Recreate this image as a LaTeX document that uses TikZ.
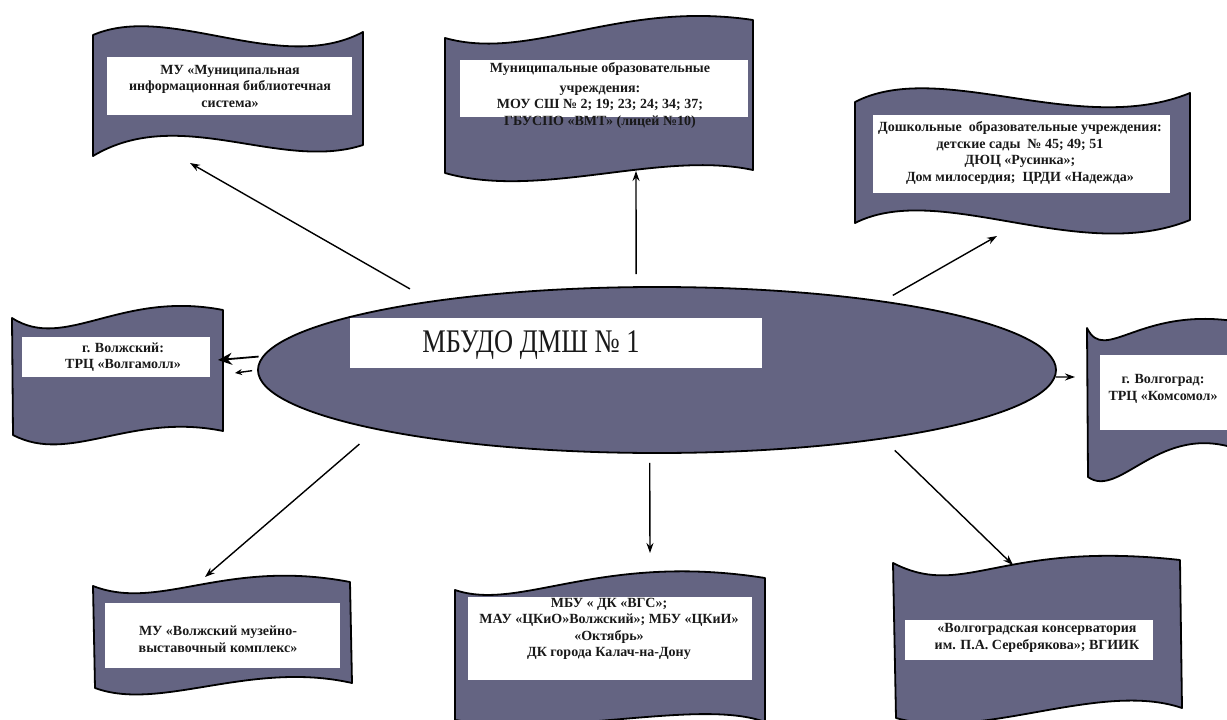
\documentclass[tikz,border=0pt]{standalone}
\usepackage{fontspec}
\usepackage{graphicx}
\setmainfont{Liberation Serif}
\usetikzlibrary{arrows.meta,shapes.geometric}
\definecolor{wavefill}{RGB}{100,100,130}
\definecolor{txt}{RGB}{25,25,25}
\tikzset{
  wave/.style={draw=black, line width=1.8pt, fill=wavefill, line join=round},
  box/.style={fill=white, inner sep=0pt, rectangle},
  lbl/.style={inner sep=0pt, align=center, text=txt, font=\fontsize{14}{16.5}\selectfont\bfseries},
  arr/.style={-{Stealth[length=10pt,width=7pt]}, line width=1.4pt},
  bigarr/.style={-{Stealth[length=14pt,width=12pt]}, line width=1.8pt},
}
\begin{document}
\begin{tikzpicture}[x=1pt,y=-1pt]
\fill[white] (0,0) rectangle (1227,720);
\clip (0,0) rectangle (1227,720);

% wave banners
\draw[wave] (93,35) .. controls (170,2) and (280,76) .. (363,32) -- (363,145)
  .. controls (280,172) and (180,104) .. (93,156) -- cycle;
\draw[wave] (445,38) .. controls (530,62) and (620,0) .. (753,20) -- (753,170)
  .. controls (660,150) and (540,200) .. (445,173) -- cycle;
\draw[wave] (855,102) .. controls (940,58) and (1080,138) .. (1190,93) -- (1190,220)
  .. controls (1080,265) and (940,180) .. (855,223) -- cycle;
\draw[wave] (12,318) .. controls (65,352) and (120,290) .. (223,310) -- (223,431)
  .. controls (130,412) and (70,465) .. (13,435) -- cycle;
\draw[wave] (1087,328) .. controls (1105,365) and (1140,305) .. (1240,322) -- (1240,450)
  .. controls (1160,420) and (1120,500) .. (1088,477) -- cycle;
\draw[wave] (93,586) .. controls (160,612) and (225,558) .. (350,582) -- (352,683)
  .. controls (250,660) and (160,712) .. (95,688) -- cycle;
\draw[wave] (455,590) .. controls (520,612) and (600,552) .. (765,578) -- (765,722)
  .. controls (700,698) and (560,738) .. (455,720) -- cycle;
\draw[wave] (893,563) .. controls (965,600) and (1000,540) .. (1180,560) -- (1182,708)
  .. controls (1100,680) and (980,742) .. (896,718) -- cycle;

% central ellipse
\node[ellipse, draw=black, line width=1.8pt, fill=wavefill, minimum width=798pt,
  minimum height=166pt, inner sep=0pt] (ell) at (657,370) {};
\node[box, minimum width=412pt, minimum height=50pt] (mainbox) at (556,343) {};
\node[inner sep=0pt, text=txt, font=\fontsize{33}{36}\selectfont] (maintext) at (531,345)
  {\scalebox{0.8}[1]{МБУДО ДМШ № 1}};

% label boxes and texts
\node[box, minimum width=245pt, minimum height=58pt] (box1) at (229,86) {};
\node[lbl] (txt1) at (230,86) {МУ «Муниципальная\\информационная библиотечная\\система»};

\node[box, minimum width=288pt, minimum height=57pt] (box2) at (604,88.5) {};
\node[lbl] (txt2) at (600,95) {Муниципальные образовательные\\[3.5pt]учреждения:\\МОУ СШ № 2; 19; 23; 24; 34; 37;\\ГБУСПО «ВМТ» (лицей №10)};

\node[box, minimum width=297pt, minimum height=78pt] (box3) at (1021.5,154) {};
\node[lbl] (txt3) at (1020,153) {Дошкольные~ образовательные учреждения:\\детские сады~ № 45; 49; 51\\ДЮЦ «Русинка»;\\Дом милосердия;~ ЦРДИ «Надежда»};

\node[box, minimum width=188pt, minimum height=40pt] (box4) at (116,357) {};
\node[lbl] (txt4) at (123,357) {г. Волжский:\\ТРЦ «Волгамолл»};

\node[box, minimum width=140pt, minimum height=75pt] (box5) at (1170,392) {};
\node[lbl] (txt5) at (1163,389) {г. Волгоград:\\ТРЦ «Комсомол»};

\node[box, minimum width=235pt, minimum height=65pt] (box6) at (222.5,635.5) {};
\node[lbl] (txt6) at (218,639) {МУ «Волжский музейно-\\выставочный комплекс»};

\node[box, minimum width=284pt, minimum height=83pt] (box7) at (610,638.5) {};
\node[lbl] (txt7) at (609,629) {МБУ « ДК «ВГС»;\\МАУ «ЦКиО»Волжский»; МБУ «ЦКиИ»\\«Октябрь»\\ДК города Калач-на-Дону};

\node[box, minimum width=248pt, minimum height=40pt] (box8) at (1029,640) {};
\node[lbl] (txt8) at (1037,638) {«Волгоградская консерватория\\им. П.А. Серебрякова»; ВГИИК};

% arrow tips
\coordinate (t1) at (190,163);
\coordinate (t2) at (636,171);
\coordinate (t3) at (997,236);
\coordinate (t4) at (218,360);
\coordinate (t5) at (235,373);
\coordinate (t6) at (1075,377);
\coordinate (t7) at (205,577);
\coordinate (t8) at (650,553);
\coordinate (t9) at (1013,565);

% connectors
\draw[arr, shorten <=24pt] (ell.163.6) -- (t1);
\draw[arr, shorten <=12pt] (ell.104.2) -- (t2);
\draw[arr, shorten <=11pt] (ell.17.1) -- (t3);
\draw[bigarr, shorten <=4pt] (ell.178.55) -- (t4);
\draw[arr, -{Stealth[length=7pt,width=6pt]}, shorten <=5pt] (ell.180.4) -- (t5);
\draw[arr] (ell.-1) -- (t6);
\draw[arr, shorten <=22pt] (ell.192.8) -- (t7);
\draw[arr, shorten <=9pt] (ell.265.2) -- (t8);
\draw[arr, shorten <=16pt] (ell.-17.04) -- (t9);
\end{tikzpicture}
\end{document}
